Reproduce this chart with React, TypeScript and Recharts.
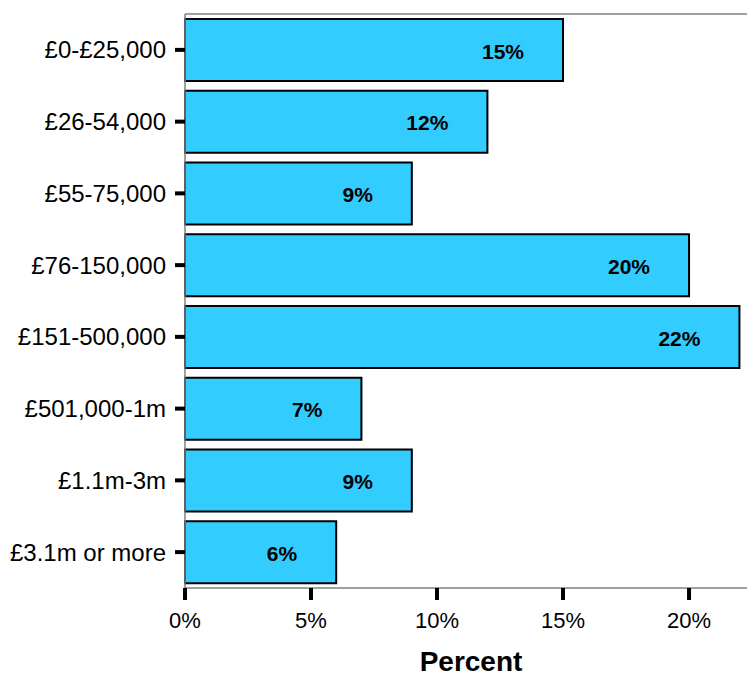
import React from "react";
import { BarChart, Bar, XAxis, YAxis, LabelList } from "recharts";

const categories = [
  "£0-£25,000",
  "£26-54,000",
  "£55-75,000",
  "£76-150,000",
  "£151-500,000",
  "£501,000-1m",
  "£1.1m-3m",
  "£3.1m or more",
];
const percents = [15, 12, 9, 20, 22, 7, 9, 6];
const xTicks = [0, 5, 10, 15, 20];

const data = categories.map((c, i) => ({ category: c, value: percents[i] }));

const FONT = "'Liberation Sans', Arial, sans-serif";

const renderLabel = (props: any) => {
  const { x, y, width, height, value } = props;
  return (
    <text
      x={Number(x) + Number(width) - 39}
      y={Number(y) + Number(height) / 2 + 1}
      textAnchor="end"
      dominantBaseline="central"
      fontFamily={FONT}
      fontWeight="bold"
      fontSize={21}
      fill="#000"
    >
      {value}%
    </text>
  );
};

const renderAxisTitle = (props: any) => {
  const vb = props.viewBox || {};
  const cx = Number(vb.x) + Number(vb.width) / 2;
  return (
    <text
      x={cx + 5}
      y={671}
      textAnchor="middle"
      fontFamily={FONT}
      fontWeight="bold"
      fontSize={28}
      fill="#000"
    >
      Percent
    </text>
  );
};

export default function App() {
  return (
    <div style={{ position: "absolute", left: 0, top: 0, background: "#fff" }}>
      <BarChart
        width={747}
        height={675}
        data={data}
        layout="vertical"
        margin={{ top: 13, right: 0, bottom: 0, left: 0 }}
        barCategoryGap="7%"
      >
        <XAxis
          xAxisId="top"
          orientation="top"
          type="number"
          domain={[0, 22.3]}
          height={1}
          tick={false}
          tickLine={false}
          axisLine={{ stroke: "#808080", strokeWidth: 1.5 }}
        />
        <XAxis
          type="number"
          domain={[0, 22.3]}
          ticks={xTicks}
          tickFormatter={(v: number) => `${v}%`}
          height={87}
          tickSize={12}
          tickMargin={12}
          interval={0}
          tickLine={{ stroke: "#000", strokeWidth: 4 }}
          axisLine={{ stroke: "#808080", strokeWidth: 1.5 }}
          tick={{ fontFamily: FONT, fontSize: 22, fill: "#000" }}
          label={renderAxisTitle}
        />
        <YAxis
          type="category"
          dataKey="category"
          width={185}
          tickSize={10}
          tickMargin={9}
          interval={0}
          tickLine={{ stroke: "#000", strokeWidth: 4 }}
          axisLine={{ stroke: "#808080", strokeWidth: 1.5 }}
          tick={{ fontFamily: FONT, fontSize: 24, fill: "#000" }}
        />
        <Bar
          dataKey="value"
          fill="#33CCFF"
          stroke="#000"
          strokeWidth={2}
          isAnimationActive={false}
        >
          <LabelList dataKey="value" content={renderLabel} />
        </Bar>
      </BarChart>
    </div>
  );
}
